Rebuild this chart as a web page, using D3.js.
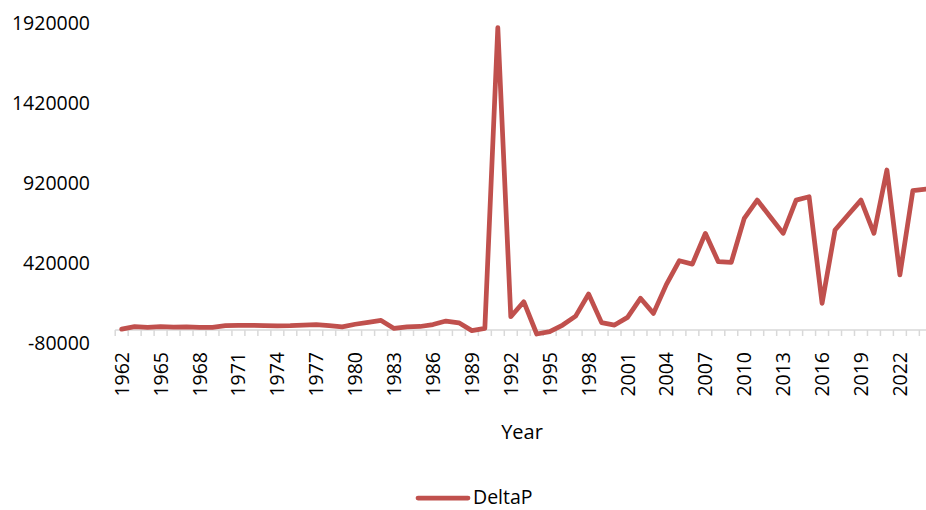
<!DOCTYPE html>
<html>
<head>
<meta charset="utf-8">
<script src="https://cdn.jsdelivr.net/npm/d3@7"></script>
<style>
  body { margin: 0; background: #fff; }
  text { font-family: "Open Sans", "Liberation Sans", sans-serif; fill: #000; }
</style>
</head>
<body>
<script>
var width = 926,
    height = 510;

var years = d3.range(1962, 2025);
var deltaP = [
  5000, 21000, 17000, 21000, 18000, 20000, 17000, 17000, 27000, 29000,
  29000, 28000, 26000, 27000, 30000, 33000, 27000, 20000, 36000, 48000,
  60000, 10000, 20000, 22000, 34000, 56000, 45000, -4000, 10000, 1890000,
  83000, 177000, -25000, -10000, 31000, 87000, 225000, 46000, 31000, 79000,
  198000, 104000, 285000, 433000, 412000, 604000, 427000, 423000, 698000, 812000,
  708000, 604000, 812000, 833000, 167000, 625000, 719000, 812000, 604000, 1000000,
  344000, 871000, 880000
];
var yTicks = [-80000, 420000, 920000, 1420000, 1920000];
var xLabels = years.filter(function(d) { return (d - 1962) % 3 === 0; });

var svg = d3.select("body").append("svg")
    .attr("width", width)
    .attr("height", height);

// category axis, one band per year
var x = d3.scaleBand()
    .domain(years)
    .range([115.2, 115.2 + 63 * 12.97]);

var y = d3.scaleLinear()
    .domain([-80000, 1920000])
    .range([342.8, 22.8]);

// horizontal axis sits at zero like in Excel
var axisY = y(0);
var gx = svg.append("g").attr("transform", "translate(0," + axisY + ")");
gx.append("line")
    .attr("x1", x.range()[0]).attr("x2", x.range()[1])
    .attr("stroke", "#d9d9d9").attr("stroke-width", 1.5);
gx.selectAll(".tick")
    .data(years.concat([2025]))
    .enter().append("line")
      .attr("x1", function(d, i) { return x.range()[0] + i * x.step(); })
      .attr("x2", function(d, i) { return x.range()[0] + i * x.step(); })
      .attr("y1", 0).attr("y2", 6)
      .attr("stroke", "#d9d9d9").attr("stroke-width", 1.5);

svg.append("g").selectAll("text")
    .data(xLabels)
    .enter().append("text")
      .attr("transform", function(d) {
        return "translate(" + (x(d) + x.bandwidth() / 2 + 7) + ",352) rotate(-90)";
      })
      .attr("text-anchor", "end")
      .style("font-size", "19.5px")
      .text(function(d) { return d; });

svg.append("g").selectAll("text")
    .data(yTicks)
    .enter().append("text")
      .attr("x", 90)
      .attr("y", function(d) { return y(d) + 7; })
      .attr("text-anchor", "end")
      .style("font-size", "19.5px")
      .text(function(d) { return d; });

svg.append("text")
    .attr("x", 522).attr("y", 439)
    .attr("text-anchor", "middle")
    .style("font-size", "20px")
    .text("Year");

var line = d3.line()
    .x(function(d, i) { return x(years[i]) + x.bandwidth() / 2; })
    .y(function(d) { return y(d); });

svg.append("path")
    .datum(deltaP)
    .attr("d", line)
    .attr("fill", "none")
    .attr("stroke", "#C0504D")
    .attr("stroke-width", 4.75)
    .attr("stroke-linejoin", "round")
    .attr("stroke-linecap", "round");

// legend
var lg = svg.append("g");
lg.append("line")
    .attr("x1", 418).attr("x2", 468)
    .attr("y1", 498).attr("y2", 498)
    .attr("stroke", "#C0504D").attr("stroke-width", 4.75)
    .attr("stroke-linecap", "round");
lg.append("text")
    .attr("x", 473).attr("y", 504)
    .style("font-size", "19.5px")
    .text("DeltaP");
</script>
</body>
</html>
